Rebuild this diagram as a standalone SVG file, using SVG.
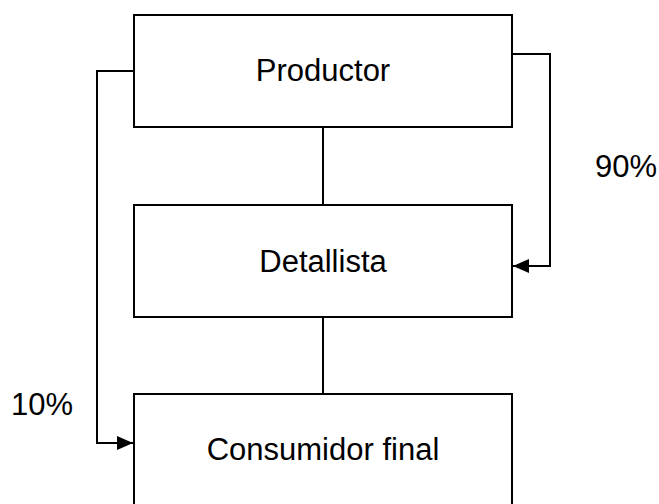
<svg xmlns="http://www.w3.org/2000/svg" width="659" height="504" viewBox="0 0 659 504">
<style>
.box{fill:#fff;stroke:#000;stroke-width:2}
.ln{fill:none;stroke:#000;stroke-width:2}
.t{font-family:"Liberation Sans",Arial,sans-serif;font-size:31px;fill:#000}
</style>
<defs>
<marker id="ah" markerWidth="16" markerHeight="16" viewBox="0 0 16 16" refX="16" refY="8" orient="auto" markerUnits="userSpaceOnUse">
<path d="M0,1 L16,8 L0,15 Z" fill="#000"/>
</marker>
</defs>
<rect width="659" height="504" fill="#fff"/>
<g id="connectors">
<line class="ln" x1="323" y1="127" x2="323" y2="205"/>
<line class="ln" x1="323" y1="317" x2="323" y2="394"/>
<polyline class="ln" points="512,54 550,54 550,266 513,266" marker-end="url(#ah)"/>
<polyline class="ln" points="134,71 97,71 97,443 133,443" marker-end="url(#ah)"/>
</g>
<g id="productor">
<rect class="box" x="134" y="15" width="378" height="112"/>
<text class="t" x="323" y="81" text-anchor="middle">Productor</text>
</g>
<g id="detallista">
<rect class="box" x="134" y="205" width="378" height="112"/>
<text class="t" x="323" y="272" text-anchor="middle">Detallista</text>
</g>
<g id="consumidor">
<rect class="box" x="134" y="394" width="378" height="120"/>
<text class="t" x="323" y="460" text-anchor="middle">Consumidor final</text>
</g>
<g id="labels">
<text class="t" x="595" y="177">90%</text>
<text class="t" x="11" y="415">10%</text>
</g>
</svg>
